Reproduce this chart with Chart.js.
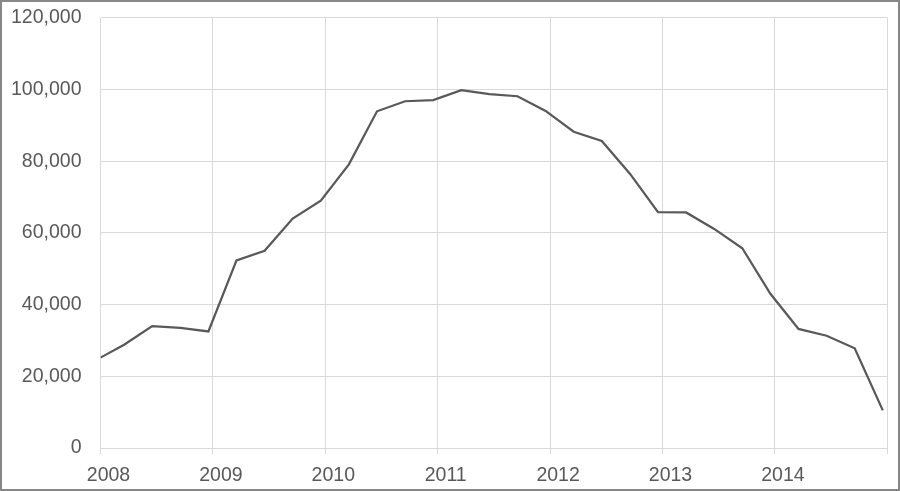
<!DOCTYPE html>
<html>
<head>
<meta charset="utf-8">
<script src="https://cdn.jsdelivr.net/npm/chart.js@4"></script>
<style>
    html, body { margin: 0; padding: 0; background: #fff; }
    #wrap {
        width: 900px;
        height: 491px;
        box-sizing: border-box;
        border: 2px solid #878787;
        position: relative;
    }
</style>
</head>
<body>
<div id="wrap"><canvas id="lineChart"></canvas></div>
<script>
// quarterly readings, x is the fractional year
const years = [2008.00, 2008.21, 2008.46, 2008.71, 2008.96,
               2009.21, 2009.46, 2009.71, 2009.96,
               2010.21, 2010.46, 2010.71, 2010.96,
               2011.21, 2011.46, 2011.71, 2011.96,
               2012.21, 2012.46, 2012.71, 2012.96,
               2013.21, 2013.46, 2013.71, 2013.96,
               2014.21, 2014.46, 2014.71, 2014.96];
const values = [25200, 28800, 34000, 33500, 32500,
                52300, 55000, 64000, 69000,
                79100, 93900, 96700, 97000,
                99800, 98700, 98100, 94000,
                88200, 85600, 76500, 65800,
                65700, 61100, 55700, 43000,
                33200, 31300, 27800, 10500];
const yearTicks = [2008, 2009, 2010, 2011, 2012, 2013, 2014, 2015];
const shownYears = [2008, 2009, 2010, 2011, 2012, 2013, 2014];

const points = years.map((x, i) => ({ x: x, y: values[i] }));

const ctx = document.getElementById('lineChart').getContext('2d');

new Chart(ctx, {
    type: 'line',
    data: {
        datasets: [{
            data: points,
            borderColor: '#595959',
            borderWidth: 2.25,
            pointRadius: 0,
            tension: 0,
            fill: false
        }]
    },
    options: {
        responsive: true,
        maintainAspectRatio: false,
        animation: false,
        layout: {
            padding: { top: 15.7, right: 10.7, bottom: 0, left: 0 }
        },
        plugins: {
            legend: { display: false },
            tooltip: { enabled: false }
        },
        scales: {
            x: {
                type: 'linear',
                min: 2008,
                max: 2015,
                afterBuildTicks: function(scale) {
                    scale.ticks = yearTicks.map(v => ({ value: v }));
                },
                afterFit: function(scale) {
                    scale.height = 41;
                    scale.paddingLeft = 0;
                    scale.paddingRight = 0;
                },
                grid: {
                    color: '#d9d9d9',
                    lineWidth: 1,
                    drawTicks: true,
                    tickLength: 6
                },
                border: { display: false },
                ticks: {
                    padding: 10,
                    labelOffset: 8,
                    maxRotation: 0,
                    autoSkip: false,
                    color: '#595959',
                    font: { family: '"Liberation Sans", Arial, sans-serif', size: 19.5 },
                    callback: function(value) {
                        return shownYears.includes(value) ? String(value) : '';
                    }
                }
            },
            y: {
                min: 0,
                max: 120000,
                afterFit: function(scale) {
                    scale.width = 98.5;
                    scale.paddingTop = 0;
                    scale.paddingBottom = 0;
                },
                grid: {
                    color: '#d9d9d9',
                    lineWidth: 1,
                    drawTicks: false
                },
                border: { display: false },
                ticks: {
                    stepSize: 20000,
                    padding: 19,
                    color: '#595959',
                    font: { family: '"Liberation Sans", Arial, sans-serif', size: 19.5 },
                    callback: function(value) {
                        return value.toLocaleString('en-US');
                    }
                }
            }
        }
    }
});
</script>
</body>
</html>
